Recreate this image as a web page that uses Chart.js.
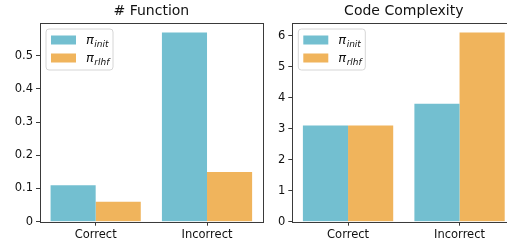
<!DOCTYPE html>
<html>
<head>
<meta charset="utf-8">
<script src="https://cdn.jsdelivr.net/npm/chart.js@4.4.1/dist/chart.umd.min.js"></script>
<style>
  html, body { margin: 0; padding: 0; background: #fff; overflow: hidden; width: 507px; height: 243px; }
  canvas { position: absolute; top: 0; }
  #c1 { left: 0; }
  #c2 { left: 265px; }
</style>
</head>
<body>
<canvas id="c1" width="265" height="243"></canvas>
<canvas id="c2" width="252" height="243"></canvas>
<script>
const categories = ["Correct", "Incorrect"];
const seriesNames = ["init", "rlhf"];
const functionInit = [0.11, 0.57];
const functionRlhf = [0.06, 0.15];
const complexityInit = [3.1, 3.8];
const complexityRlhf = [3.1, 6.1];
const functionTicks = [0, 0.1, 0.2, 0.3, 0.4, 0.5];
const complexityTicks = [0, 1, 2, 3, 4, 5, 6];
const titles = ["# Function", "Code Complexity"];

const COL_INIT = "#73bfd0";
const COL_RLHF = "#f0b45c";
const AXIS = "#3a3a3a";
const FONT = "'DejaVu Sans', sans-serif";

function framePlugin(title) {
  return {
    id: 'frame',
    afterDraw(chart) {
      const ctx = chart.ctx;
      const a = chart.chartArea;
      ctx.save();
      ctx.strokeStyle = AXIS;
      ctx.lineWidth = 1;
      ctx.strokeRect(Math.round(a.left) + 0.5, Math.round(a.top) + 0.5,
                     Math.round(a.right - a.left), Math.round(a.bottom - a.top));
      // title
      ctx.fillStyle = "#111";
      ctx.font = "14px " + FONT;
      ctx.textAlign = "center";
      ctx.textBaseline = "middle";
      ctx.fillText(title, (a.left + a.right) / 2, 11.5);
      // legend
      const lx = a.left + 6, ly = a.top + 6, lw = 67, lh = 41;
      ctx.beginPath();
      const r = 3;
      ctx.moveTo(lx + r, ly);
      ctx.arcTo(lx + lw, ly, lx + lw, ly + lh, r);
      ctx.arcTo(lx + lw, ly + lh, lx, ly + lh, r);
      ctx.arcTo(lx, ly + lh, lx, ly, r);
      ctx.arcTo(lx, ly, lx + lw, ly, r);
      ctx.closePath();
      ctx.fillStyle = "rgba(255,255,255,0.85)";
      ctx.fill();
      ctx.strokeStyle = "#d6d6d6";
      ctx.lineWidth = 1;
      ctx.stroke();
      const cols = [COL_INIT, COL_RLHF];
      chart.data.datasets.forEach((ds, i) => {
        const cy = ly + 11 + i * 18;
        ctx.fillStyle = cols[i];
        ctx.fillRect(lx + 5, cy - 4.5, 25, 9);
        ctx.fillStyle = "#111";
        ctx.textAlign = "left";
        ctx.textBaseline = "alphabetic";
        ctx.font = "italic 13px " + FONT;
        ctx.fillText("\u03c0", lx + 40, cy + 4);
        const w = ctx.measureText("\u03c0").width;
        ctx.font = "italic 9px " + FONT;
        ctx.fillText(seriesNames[i], lx + 40 + w + 0.5, cy + 6.5);
      });
      ctx.restore();
    }
  };
}

function makeChart(id, dInit, dRlhf, ticks, ymax, yWidth, padRight, title) {
  return new Chart(document.getElementById(id), {
    type: 'bar',
    data: {
      labels: categories,
      datasets: [
        { label: "init", data: dInit, backgroundColor: COL_INIT, borderWidth: 0 },
        { label: "rlhf", data: dRlhf, backgroundColor: COL_RLHF, borderWidth: 0 }
      ]
    },
    options: {
      responsive: false,
      animation: false,
      layout: { padding: { top: 23, right: padRight, left: 0, bottom: 0 } },
      datasets: { bar: { categoryPercentage: 0.81, barPercentage: 1.0 } },
      plugins: { legend: { display: false }, title: { display: false }, tooltip: { enabled: false } },
      scales: {
        x: {
          grid: { display: true, offset: false, drawOnChartArea: false, drawTicks: true, tickLength: 4, color: AXIS, tickWidth: 1 },
          border: { display: false },
          ticks: { color: "#111", font: { family: FONT, size: 11.5 }, padding: 2, maxRotation: 0 },
          afterFit(s) { s.height = 21.3; s.paddingLeft = 0; s.paddingRight = 0; }
        },
        y: {
          min: 0, max: ymax,
          grid: { display: true, drawOnChartArea: false, drawTicks: true, tickLength: 4, color: AXIS, tickWidth: 1 },
          border: { display: false },
          ticks: { color: "#111", font: { family: FONT, size: 11.5 }, padding: 3 },
          afterBuildTicks(s) { s.ticks = ticks.map(v => ({ value: v })); },
          afterFit(s) { s.width = yWidth; s.paddingTop = 0; s.paddingBottom = 0; }
        }
      }
    },
    plugins: [framePlugin(title)]
  });
}

makeChart('c1', functionInit, functionRlhf, functionTicks, 0.5985, 40, 2.3, titles[0]);
makeChart('c2', complexityInit, complexityRlhf, complexityTicks, 6.405, 27.3, 1.7, titles[1]);
</script>
</body>
</html>
